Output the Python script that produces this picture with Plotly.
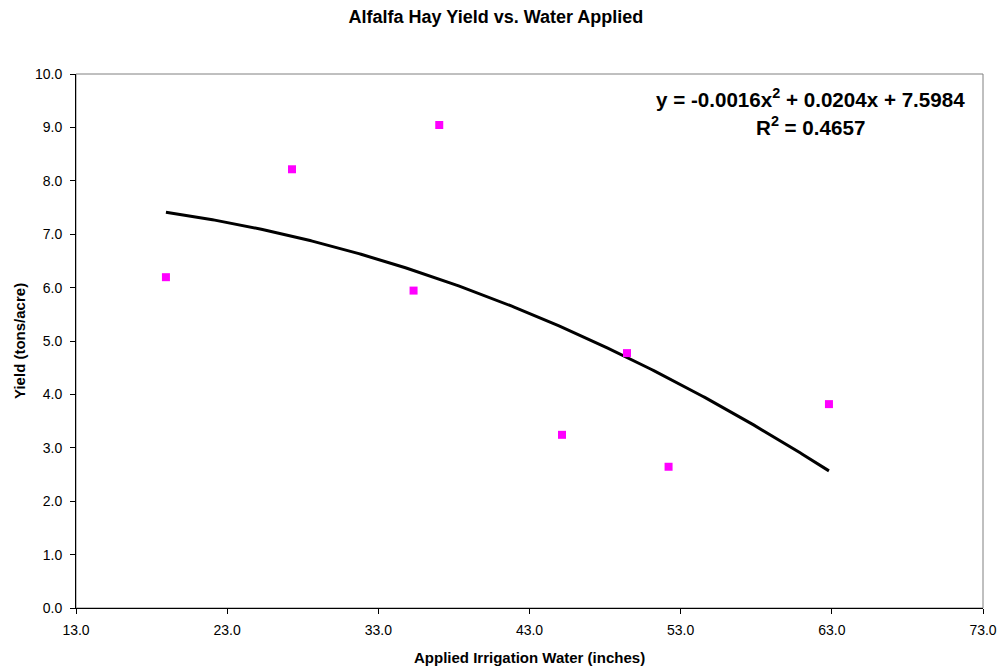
import numpy as np
import plotly.graph_objects as go

water = [18.95, 27.29, 37.03, 35.33, 45.15, 49.45, 52.2, 62.81]
yield_t = [6.195, 8.216, 9.045, 5.944, 3.243, 4.773, 2.645, 3.818]

coef = [-0.0016, 0.0204, 7.5984]
r2 = 0.4657

x_ticks = [13, 23, 33, 43, 53, 63, 73]

xs = np.linspace(min(water), max(water), 300)
ys = np.polyval(coef, xs)

fig = go.Figure()
fig.add_trace(go.Scatter(x=xs, y=ys, mode="lines",
                         line=dict(color="black", width=3), hoverinfo="skip"))
fig.add_trace(go.Scatter(x=water, y=yield_t, mode="markers",
                         marker=dict(symbol="square", size=8, color="#FF00FF",
                                     line=dict(width=0))))

font = "Liberation Sans, Arial, sans-serif"
L, R, T, B = 76, 20, 74, 62
W, H = 1003, 670
pw, ph = W - L - R, H - T - B

fig.update_layout(
    width=W, height=H,
    margin=dict(l=L, r=R, t=T, b=B),
    paper_bgcolor="white", plot_bgcolor="white",
    showlegend=False,
    font=dict(family=font, size=14, color="black"),
    title=dict(text="<b>Alfalfa Hay Yield vs. Water Applied</b>",
               x=0.4945, xanchor="center", y=1 - 17 / H, yanchor="middle",
               font=dict(size=18, family=font)),
    xaxis=dict(range=[13, 73], tickvals=x_ticks, automargin=False,
               tickformat=".1f", showgrid=False, zeroline=False,
               showline=True, linecolor="black", linewidth=1,
               ticks="outside", ticklen=5, tickcolor="black",
               ticklabelstandoff=4, tickfont=dict(size=14)),
    yaxis=dict(range=[0, 10], dtick=1, tickformat=".1f", showgrid=False,
               automargin=False,
               zeroline=False, showline=True, linecolor="black", linewidth=1,
               ticks="outside", ticklen=5, tickcolor="black",
               ticklabelstandoff=5, tickfont=dict(size=14)),
    shapes=[dict(type="rect", xref="paper", yref="paper", x0=0, x1=1, y0=0, y1=1,
                 line=dict(color="#808080", width=1), layer="below")],
    annotations=[
        dict(text="<b>Applied Irrigation Water (inches)</b>",
             xref="paper", yref="paper", x=0.5, y=(H - B - 657) / ph,
             xanchor="center", yanchor="middle", showarrow=False,
             font=dict(size=15)),
        dict(text="<b>Yield (tons/acre)</b>", textangle=-90,
             xref="paper", yref="paper", x=(19 - L) / pw, y=0.5,
             xanchor="center", yanchor="middle", showarrow=False,
             font=dict(size=15)),
        dict(text="<b>y = -0.0016x<sup>2</sup> + 0.0204x + 7.5984</b>",
             xref="paper", yref="paper", x=(810 - L) / pw, y=(H - B - 98) / ph,
             xanchor="center", yanchor="middle", showarrow=False,
             font=dict(size=20.6)),
        dict(text="<b>R<sup>2</sup> = %.4f</b>" % r2,
             xref="paper", yref="paper", x=(810 - L) / pw, y=(H - B - 126) / ph,
             xanchor="center", yanchor="middle", showarrow=False,
             font=dict(size=20.6)),
    ],
)

fig.write_html("out.html")
